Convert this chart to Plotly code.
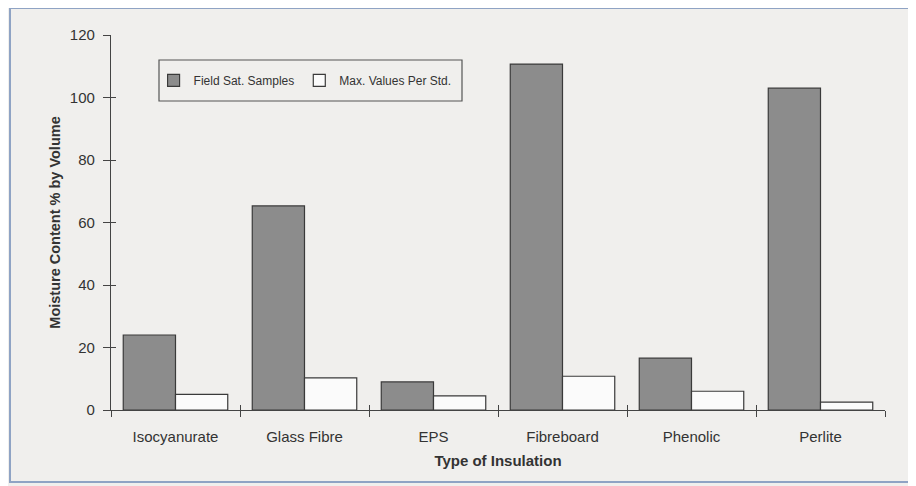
import plotly.graph_objects as go

categories = ["Isocyanurate", "Glass Fibre", "EPS", "Fibreboard", "Phenolic", "Perlite"]
field_sat = [24, 65.3, 9, 110.7, 16.6, 103]
max_std = [5, 10.3, 4.5, 10.8, 6, 2.5]
y_ticks = [0, 20, 40, 60, 80, 100, 120]

FONT = "Liberation Sans, Arial, sans-serif"
BG = "#f0efed"
INK = "#3a3a3a"

fig = go.Figure()
fig.add_trace(go.Bar(
    x=categories, y=field_sat, name="Field Sat. Samples",
    marker=dict(color="#8c8c8c", line=dict(color=INK, width=1.2)),
))
fig.add_trace(go.Bar(
    x=categories, y=max_std, name="Max. Values Per Std.",
    marker=dict(color="#fbfbfb", line=dict(color=INK, width=1.2)),
))
# invisible helper trace on overlay axes (for crossing ticks)
fig.add_trace(go.Bar(x=categories, y=[None] * len(categories), xaxis="x2", yaxis="y2",
                     showlegend=False, hoverinfo="skip"))

fig.update_layout(
    width=916, height=486,
    margin=dict(l=103, r=39, t=27, b=84),
    paper_bgcolor=BG, plot_bgcolor=BG,
    barmode="group", bargap=0.19, bargroupgap=0,
    font=dict(family=FONT, color="#333333", size=15),
    legend=dict(
        orientation="h", x=0.055, y=0.879, xanchor="left", yanchor="middle",
        borderwidth=0, bgcolor="rgba(0,0,0,0)", itemwidth=30,
        font=dict(size=12, color="#333333"),
    ),
    xaxis=dict(
        showline=True, linecolor="#444444", linewidth=1.2,
        ticks="outside", ticklen=6, tickcolor="#444444", tickson="boundaries",
        title=dict(text="<b>Type of Insulation</b>", font=dict(size=15), standoff=11),
        tickfont=dict(size=15), ticklabelstandoff=13,
    ),
    xaxis2=dict(
        overlaying="x", side="bottom", matches="x", tickson="boundaries",
        ticks="inside", ticklen=5, tickcolor="#444444", showticklabels=False,
        showgrid=False, showline=False,
    ),
    yaxis=dict(
        range=[0, 120], tickvals=y_ticks, showline=True, linecolor="#444444", linewidth=1.2,
        ticks="outside", ticklen=7, tickcolor="#444444", showgrid=False, zeroline=False,
        title=dict(text="<b>Moisture Content % by Volume</b>", font=dict(size=14.5), standoff=5),
        tickfont=dict(size=15), ticklabelstandoff=5,
    ),
    yaxis2=dict(
        range=[0, 120], tickvals=y_ticks, overlaying="y", side="left",
        ticks="inside", ticklen=5, tickcolor="#444444", showticklabels=False,
        showgrid=False, zeroline=False, showline=False,
    ),
)
# legend frame
fig.add_shape(type="rect", xref="paper", yref="paper",
              x0=48 / 774, x1=351 / 774, y0=309 / 375, y1=350 / 375,
              line=dict(color="#555555", width=1.2), fillcolor="rgba(0,0,0,0)")
# outer picture frame
fig.add_shape(type="rect", xref="paper", yref="paper",
              x0=-101 / 774, x1=1.06, y0=-72 / 375, y1=1 + 27 / 375,
              line=dict(color="#8fa3c4", width=2), fillcolor="rgba(0,0,0,0)", layer="below")
fig.write_html("out.html")
